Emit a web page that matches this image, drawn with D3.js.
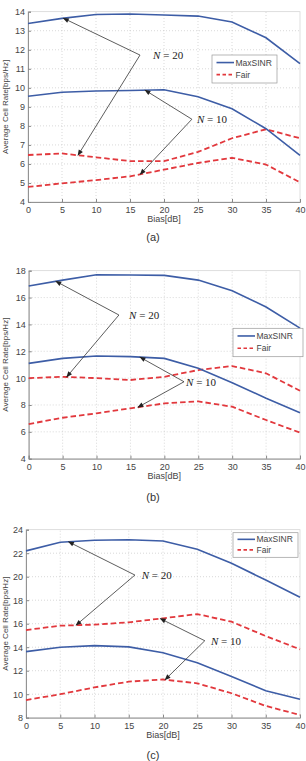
<!DOCTYPE html>
<html><head><meta charset="utf-8">
<script src="https://cdn.jsdelivr.net/npm/d3@7"></script>
<style>body{margin:0;background:#fff}svg{display:block}</style>
</head><body>
<script>
// ---------- data ----------
const bias = [0,5,10,15,20,25,30,35,40];
const xTicks = [0,5,10,15,20,25,30,35,40];

// panel (a)
const aMaxN20 = [13.38,13.65,13.85,13.88,13.83,13.77,13.46,12.63,11.27];
const aMaxN10 = [9.56,9.77,9.83,9.86,9.9,9.53,8.9,7.85,6.45];
const aFairUp = [6.47,6.55,6.35,6.15,6.15,6.63,7.35,7.82,7.35];
const aFairLo = [4.79,4.98,5.15,5.35,5.7,6.05,6.32,5.97,5.03];
const aYTicks = [4,5,6,7,8,9,10,11,12,13,14];

// panel (b)
const bMaxN20 = [16.86,17.3,17.7,17.68,17.65,17.3,16.5,15.3,13.72];
const bMaxN10 = [11.1,11.47,11.65,11.6,11.47,10.73,9.66,8.5,7.43];
const bFairUp = [10.0,10.1,10.0,9.86,10.1,10.6,10.9,10.36,9.06];
const bFairLo = [6.58,7.05,7.38,7.75,8.12,8.27,7.87,6.88,5.94];
const bYTicks = [4,6,8,10,12,14,16,18];

// panel (c)
const cMaxN20 = [22.2,22.93,23.1,23.15,23.04,22.33,21.14,19.72,18.25];
const cMaxN10 = [13.62,14.0,14.13,14.03,13.53,12.68,11.5,10.3,9.57];
const cFairUp = [15.46,15.83,15.92,16.12,16.46,16.82,16.17,14.95,13.82];
const cFairLo = [9.5,10.0,10.58,11.07,11.25,10.93,10.08,9.0,8.23];
const cYTicks = [8,10,12,14,16,18,20,22,24];

const seriesNames = ["MaxSINR","Fair"];
const panelLabels = ["(a)","(b)","(c)"];
const xLabel = "Bias[dB]";
const yLabel = "Average Cell Rate[bps/Hz]";

// ---------- layout ----------
const W = 306, H = 761;
const BLUE = "#3d5da6", RED = "#e2383d";
const svg = d3.select("body").append("svg").attr("width",W).attr("height",H);

const panels = [
  {max:[aMaxN20,aMaxN10], fair:[aFairUp,aFairLo], yTicks:aYTicks, yDom:[4,14],
   xr:[28,300], yr:[202,11.7], label:panelLabels[0], labelY:241, xlabY:222,
   legend:{x:212,y:55,w:65,h:28},
   ann:[{t:"20", v:[16.47,11.72], tx:18.4, targets:[["max",0,5.2],["fair",0,7.35]]},
        {t:"10", v:[24.1,8.35], tx:24.85, targets:[["max",1,17.2],["fair",1,16.5]]}]},
  {max:[bMaxN20,bMaxN10], fair:[bFairUp,bFairLo], yTicks:bYTicks, yDom:[4,18],
   xr:[28.7,300], yr:[458.7,270.7], label:panelLabels[1], labelY:501, xlabY:479,
   legend:{x:233,y:328.3,w:70,h:28.4},
   ann:[{t:"20", v:[13.3,14.7], tx:14.8, targets:[["max",0,4.0],["fair",0,5.6]]},
        {t:"10", v:[22.9,9.73], tx:23.2, targets:[["max",1,16.4],["fair",1,16.1]]}]},
  {max:[cMaxN20,cMaxN10], fair:[cFairUp,cFairLo], yTicks:cYTicks, yDom:[8,24],
   xr:[26,300], yr:[717.7,529.7], label:panelLabels[2], labelY:759, xlabY:738,
   legend:{x:233,y:532.7,w:65,h:24.6},
   ann:[{t:"20", v:[15.9,20.14], tx:16.9, targets:[["max",0,6.2],["fair",0,7.3]]},
        {t:"10", v:[26.1,14.55], tx:27.0, targets:[["fair",0,19.6],["fair",1,20.3]]}]}
];

const defs = svg.append("defs");
defs.append("marker").attr("id","ah").attr("viewBox","0 0 10 10").attr("refX",9).attr("refY",5)
  .attr("markerWidth",7).attr("markerHeight",6).attr("orient","auto").attr("markerUnits","userSpaceOnUse")
  .append("path").attr("d","M0,1 L10,5 L0,9 Z").attr("fill","#222");

function interp(arr, x){
  const i = Math.min(Math.floor(x/5), bias.length-2);
  const t = (x - bias[i])/5;
  return arr[i] + (arr[i+1]-arr[i])*t;
}

panels.forEach(p=>{
  const x = d3.scaleLinear().domain([0,40]).range(p.xr);
  const y = d3.scaleLinear().domain(p.yDom).range(p.yr);
  const g = svg.append("g");
  const [x0,x1] = p.xr, [y0,y1] = p.yr;

  // grid
  g.selectAll(".gx").data(xTicks.slice(1,-1)).join("line")
    .attr("x1",d=>x(d)).attr("x2",d=>x(d)).attr("y1",y0).attr("y2",y1)
    .attr("stroke","#c8c8c8").attr("stroke-width",0.7).attr("stroke-dasharray","1,2");
  g.selectAll(".gy").data(p.yTicks.slice(1,-1)).join("line")
    .attr("y1",d=>y(d)).attr("y2",d=>y(d)).attr("x1",x0).attr("x2",x1)
    .attr("stroke","#c8c8c8").attr("stroke-width",0.7).attr("stroke-dasharray","1,2");
  // box
  g.append("rect").attr("x",x0).attr("y",y1).attr("width",x1-x0).attr("height",y0-y1)
    .attr("fill","none").attr("stroke","#d0d0d0").attr("stroke-width",0.7);

  // axes
  const ax = g.append("g").attr("transform",`translate(0,${y0})`)
    .call(d3.axisBottom(x).tickValues(xTicks).tickSize(-3).tickPadding(5).tickFormat(d3.format("d")));
  const ay = g.append("g").attr("transform",`translate(${x0},0)`)
    .call(d3.axisLeft(y).tickValues(p.yTicks).tickSize(-3).tickPadding(3).tickFormat(d3.format("d")));
  [ax,ay].forEach(a=>{
    a.select(".domain").attr("stroke","#888").attr("stroke-width",0.9);
    a.selectAll(".tick line").attr("stroke","#888");
    a.selectAll("text").attr("font-family","Liberation Sans, Arial, sans-serif").attr("font-size",9).attr("fill","#444");
  });

  // lines
  const line = d3.line().x((d,i)=>x(bias[i])).y(d=>y(d));
  p.fair.forEach(s=>g.append("path").attr("d",line(s)).attr("fill","none")
    .attr("stroke",RED).attr("stroke-width",1.8).attr("stroke-dasharray","5.5,3"));
  p.max.forEach(s=>g.append("path").attr("d",line(s)).attr("fill","none")
    .attr("stroke",BLUE).attr("stroke-width",1.6));

  // labels
  g.append("text").attr("x",(x0+x1)/2).attr("y",p.xlabY).attr("text-anchor","middle")
    .attr("font-family","Liberation Sans, Arial, sans-serif").attr("font-size",9).attr("fill","#444").text(xLabel);
  g.append("text").attr("transform",`translate(8,${(y0+y1)/2}) rotate(-90)`).attr("text-anchor","middle")
    .attr("font-family","Liberation Sans, Arial, sans-serif").attr("font-size",8).attr("fill","#444").text(yLabel);
  g.append("text").attr("x",153).attr("y",p.labelY).attr("text-anchor","middle")
    .attr("font-family","Liberation Sans, Arial, sans-serif").attr("font-size",11).attr("fill","#333").text(p.label);

  // annotations
  p.ann.forEach(a=>{
    const vx = x(a.v[0]), vy = y(a.v[1]);
    a.targets.forEach(([kind,idx,tx])=>{
      const arr = (kind==="max"?p.max:p.fair)[idx];
      g.append("line").attr("x1",vx).attr("y1",vy).attr("x2",x(tx)).attr("y2",y(interp(arr,tx)))
        .attr("stroke","#333").attr("stroke-width",0.8).attr("marker-end","url(#ah)");
    });
    const t = g.append("text").attr("x",x(a.tx)).attr("y",vy+4)
      .attr("font-family","Liberation Serif, Times New Roman, serif").attr("font-size",11).attr("fill","#222");
    t.append("tspan").attr("font-style","italic").text("N");
    t.append("tspan").text(" = " + a.t);
  });

  // legend
  const L = p.legend;
  const lg = g.append("g");
  lg.append("rect").attr("x",L.x).attr("y",L.y).attr("width",L.w).attr("height",L.h)
    .attr("fill","#fff").attr("stroke","#999").attr("stroke-width",0.7);
  const rows = [L.y+L.h*0.27, L.y+L.h*0.7];
  seriesNames.forEach((n,i)=>{
    lg.append("line").attr("x1",L.x+4.5).attr("x2",L.x+22).attr("y1",rows[i]).attr("y2",rows[i])
      .attr("stroke",i===0?BLUE:RED).attr("stroke-width",1.6).attr("stroke-dasharray",i===0?null:"3.5,2.5");
    lg.append("text").attr("x",L.x+23.5).attr("y",rows[i]+3).attr("font-family","Liberation Sans, Arial, sans-serif")
      .attr("font-size",8.5).attr("fill","#444").text(n);
  });
});
</script>
</body></html>
